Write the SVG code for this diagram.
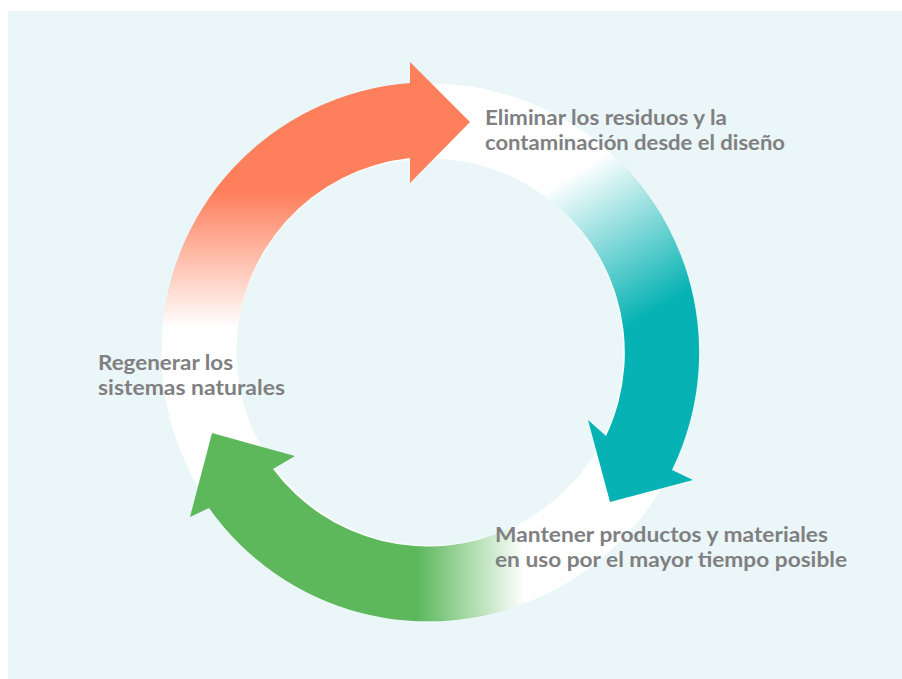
<svg xmlns="http://www.w3.org/2000/svg" width="902" height="679" viewBox="0 0 902 679">
<defs>
<style>
.lbl{font-family:Lato,"Noto Sans","Liberation Sans",sans-serif;font-weight:700;font-size:20px;fill:#808082}
</style>
<linearGradient id="gO" gradientUnits="userSpaceOnUse" x1="0" y1="328" x2="0" y2="192">
<stop offset="0" stop-color="#FE7F5C" stop-opacity="0"/>
<stop offset="1" stop-color="#FE7F5C" stop-opacity="1"/>
</linearGradient>
<linearGradient id="gT" gradientUnits="userSpaceOnUse" x1="582" y1="168" x2="665" y2="305">
<stop offset="0" stop-color="#06B2B3" stop-opacity="0"/>
<stop offset="1" stop-color="#06B2B3" stop-opacity="1"/>
</linearGradient>
<linearGradient id="gG" gradientUnits="userSpaceOnUse" x1="525" y1="0" x2="418" y2="0">
<stop offset="0" stop-color="#5DB85C" stop-opacity="0"/>
<stop offset="1" stop-color="#5DB85C" stop-opacity="1"/>
</linearGradient>
</defs>
<rect x="0" y="0" width="902" height="679" fill="#ffffff"/>
<rect x="8" y="11" width="894" height="668" fill="#EAF6F7"/>
<g id="connectors">
<circle id="ring" cx="430" cy="352" r="231" fill="none" stroke="#ffffff" stroke-width="75"/>
<path id="arrow-orange" fill="url(#gO)" d="M161.5,352 A268.5,268.5 0 0 1 410,83 L410,62 L470,122 L410,183 L410,158 A193.5,193.5 0 0 0 236.5,352 Z"/>
<path id="arrow-teal" fill="url(#gT)" d="M564.25,119.5 A268.5,268.5 0 0 1 672,470 L693,480 L610,502 L588,420 L606,436 A193.5,193.5 0 0 0 526.75,184.4 Z"/>
<path id="arrow-green" fill="url(#gG)" d="M543.5,595.3 A268.5,268.5 0 0 1 209,508 L190,517 L212,433 L295,456 L273,469 A193.5,193.5 0 0 0 511.8,527.4 Z"/>
</g>
<g id="node-eliminar">
<text class="lbl" x="485" y="125" textLength="242" lengthAdjust="spacingAndGlyphs">Eliminar los residuos y la</text>
<text class="lbl" x="485" y="150" textLength="300" lengthAdjust="spacingAndGlyphs">contaminación desde el diseño</text>
</g>
<g id="node-mantener">
<text class="lbl" x="495" y="542" textLength="333" lengthAdjust="spacingAndGlyphs">Mantener productos y materiales</text>
<text class="lbl" x="495" y="567" textLength="352" lengthAdjust="spacingAndGlyphs">en uso por el mayor tiempo posible</text>
</g>
<g id="node-regenerar">
<text class="lbl" x="98" y="370" textLength="135" lengthAdjust="spacingAndGlyphs">Regenerar los</text>
<text class="lbl" x="98" y="395" textLength="187" lengthAdjust="spacingAndGlyphs">sistemas naturales</text>
</g>
</svg>
